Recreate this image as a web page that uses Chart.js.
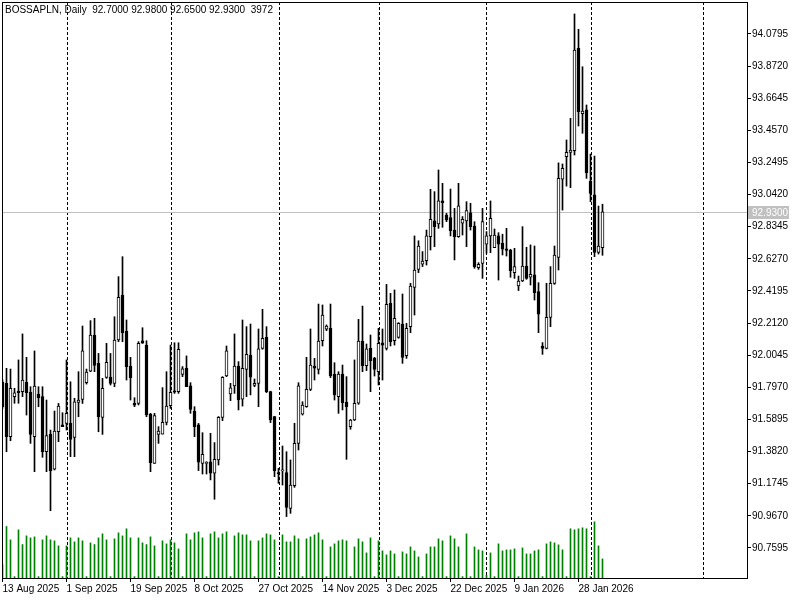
<!DOCTYPE html>
<html>
<head>
<meta charset="utf-8">
<script src="https://cdn.jsdelivr.net/npm/chart.js@4.4.1/dist/chart.umd.min.js"></script>
<style>
  html, body { margin: 0; padding: 0; background: #fff; }
  #wrap { width: 800px; height: 600px; position: relative; }
</style>
</head>
<body>
<div id="wrap"><canvas id="chart" width="800" height="600"></canvas></div>
<script>
// daily bars BOSSAPLN, index 0 = 13 Aug 2025 (sunday bars included)
const title = 'BOSSAPLN, Daily';
const opens = [
  91.831, 91.823, 91.478, 91.737, 91.773, 91.769, 91.829, 91.765, 91.478, 91.754,
  91.737, 91.381, 91.495, 91.269, 91.510, 91.554, 91.564, 91.564, 91.474, 91.700,
  91.719, 91.827, 91.902, 92.135, 91.952, 91.603, 91.861, 91.863, 91.823, 92.103,
  92.393, 92.161, 91.935, 91.693, 91.693, 92.098, 92.070, 91.625, 91.306, 91.493,
  91.495, 91.571, 91.678, 91.775, 91.769, 91.881, 91.920, 91.806, 91.644, 91.554,
  91.306, 91.306, 91.315, 91.242, 91.328, 91.603, 91.870, 91.754, 91.806, 91.935,
  91.720, 91.913, 92.006, 91.810, 91.823, 92.049, 92.120, 91.769, 91.608, 91.245,
  91.257, 91.246, 91.015, 91.162, 91.435, 91.623, 91.672, 91.784, 91.935, 91.913,
  92.099, 92.172, 92.178, 91.883, 91.737, 91.883, 91.702, 91.543, 91.586, 91.694,
  92.096, 91.937, 92.049, 91.984, 91.898, 92.085, 92.049, 92.340, 92.099, 92.120,
  92.206, 92.002, 92.189, 92.443, 92.559, 92.592, 92.615, 92.770, 92.872, 92.852,
  93.001, 92.910, 92.893, 92.813, 92.770, 92.857, 92.872, 92.925, 92.839, 92.570,
  92.598, 92.721, 92.775, 92.700, 92.775, 92.727, 92.691, 92.684, 92.538, 92.452,
  92.484, 92.581, 92.508, 92.523, 92.415, 92.064, 92.049, 92.249, 92.469, 92.637,
  93.141, 93.287, 93.315, 93.326, 93.987, 93.565, 93.589, 93.130, 93.040, 92.669,
  92.700
];
const highs = [
  91.845, 91.920, 91.915, 91.791, 91.974, 92.142, 91.991, 91.801, 92.032, 91.801,
  91.801, 91.715, 91.521, 91.644, 91.693, 91.633, 91.974, 91.833, 91.726, 91.898,
  92.193, 91.915, 92.228, 92.243, 92.016, 91.855, 92.081, 92.016, 92.253, 92.512,
  92.641, 92.232, 91.991, 91.730, 92.092, 92.182, 92.098, 91.629, 91.629, 91.543,
  91.795, 91.898, 92.070, 92.085, 92.085, 91.931, 92.000, 91.827, 91.672, 91.564,
  91.504, 91.317, 91.500, 91.440, 91.608, 91.866, 92.064, 91.823, 92.142, 91.963,
  92.232, 92.189, 92.206, 91.851, 92.174, 92.301, 92.189, 91.772, 91.610, 91.274,
  91.418, 91.381, 91.328, 91.565, 91.827, 91.704, 91.991, 92.174, 91.984, 92.335,
  92.329, 92.200, 92.335, 91.956, 91.898, 91.941, 91.866, 91.590, 91.974, 92.236,
  92.322, 92.077, 92.135, 91.991, 92.178, 92.174, 92.462, 92.404, 92.426, 92.215,
  92.400, 92.210, 92.469, 92.775, 92.744, 92.674, 92.813, 93.076, 93.061, 93.201,
  93.115, 92.921, 93.078, 92.953, 93.115, 92.900, 92.996, 92.986, 92.867, 92.602,
  92.953, 92.803, 93.001, 92.820, 92.796, 92.786, 92.824, 92.689, 92.695, 92.516,
  92.835, 92.702, 92.717, 92.710, 92.473, 92.086, 92.469, 92.577, 92.710, 93.247,
  93.240, 93.395, 93.535, 94.209, 94.110, 93.868, 93.621, 93.304, 93.291, 92.968,
  92.980
];
const lows = [
  91.660, 91.381, 91.452, 91.694, 91.694, 91.737, 91.618, 91.435, 91.252, 91.672,
  91.345, 91.252, 91.000, 91.263, 91.446, 91.543, 91.521, 91.349, 91.349, 91.607,
  91.693, 91.818, 91.898, 91.898, 91.510, 91.493, 91.855, 91.812, 91.801, 92.092,
  92.092, 91.844, 91.715, 91.672, 91.683, 92.081, 91.607, 91.252, 91.306, 91.435,
  91.495, 91.554, 91.661, 91.758, 91.758, 91.866, 91.801, 91.629, 91.478, 91.259,
  91.237, 91.237, 91.199, 91.074, 91.295, 91.582, 91.866, 91.711, 91.758, 91.651,
  91.676, 91.737, 91.748, 91.801, 91.672, 92.043, 91.763, 91.569, 91.220, 91.177,
  91.166, 90.962, 90.983, 91.151, 91.392, 91.618, 91.668, 91.776, 91.844, 91.883,
  92.064, 92.163, 91.860, 91.715, 91.629, 91.651, 91.332, 91.526, 91.582, 91.687,
  91.898, 91.905, 91.769, 91.870, 91.812, 91.844, 92.038, 92.064, 92.070, 92.114,
  91.952, 91.984, 92.150, 92.264, 92.538, 92.577, 92.587, 92.684, 92.706, 92.824,
  92.831, 92.867, 92.775, 92.620, 92.766, 92.781, 92.706, 92.813, 92.566, 92.559,
  92.501, 92.663, 92.667, 92.700, 92.490, 92.652, 92.645, 92.508, 92.501, 92.422,
  92.480, 92.495, 92.458, 92.361, 92.150, 92.010, 92.045, 92.189, 92.462, 92.555,
  92.942, 93.097, 93.087, 93.298, 93.485, 93.438, 93.147, 92.996, 92.641, 92.658,
  92.650
];
const closes = [
  91.672, 91.478, 91.790, 91.762, 91.762, 91.844, 91.762, 91.493, 91.805, 91.730,
  91.381, 91.485, 91.259, 91.515, 91.676, 91.543, 91.629, 91.461, 91.704, 91.715,
  92.032, 91.896, 92.135, 91.939, 91.607, 91.790, 91.958, 91.823, 92.103, 92.378,
  92.150, 91.930, 91.859, 91.681, 92.081, 92.083, 91.618, 91.310, 91.614, 91.515,
  91.571, 91.676, 91.765, 91.765, 92.042, 91.916, 91.801, 91.655, 91.543, 91.313,
  91.364, 91.310, 91.242, 91.332, 91.603, 91.862, 92.032, 91.793, 91.935, 91.715,
  91.920, 92.010, 91.862, 91.823, 92.045, 92.114, 91.769, 91.586, 91.259, 91.240,
  91.259, 91.022, 91.166, 91.435, 91.806, 91.683, 91.784, 91.941, 91.920, 92.096,
  92.264, 92.193, 91.870, 91.748, 91.883, 91.698, 91.672, 91.586, 91.694, 92.096,
  91.937, 92.045, 91.969, 91.913, 92.081, 92.070, 92.333, 92.092, 92.243, 92.210,
  91.991, 92.178, 92.451, 92.555, 92.710, 92.613, 92.775, 92.882, 92.835, 93.001,
  92.990, 92.878, 92.809, 92.770, 92.969, 92.882, 92.938, 92.835, 92.577, 92.592,
  92.867, 92.775, 92.889, 92.781, 92.721, 92.689, 92.682, 92.551, 92.577, 92.484,
  92.581, 92.501, 92.527, 92.409, 92.269, 92.049, 92.249, 92.469, 92.652, 93.147,
  93.212, 93.315, 93.330, 93.976, 93.578, 93.582, 93.184, 93.050, 92.669, 92.710,
  92.930
];
const volumes = [
  2800, 10730, 7950, 280, 10040, 6970, 8780, 8360, 8570, 280,
  7950, 8780, 7950, 7740, 6690, 280, 6690, 8360, 7530, 8360,
  7740, 280, 7320, 6970, 8360, 9200, 7950, 280, 8160, 9410,
  8780, 10250, 8360, 280, 8360, 7320, 6970, 8570, 6690, 280,
  7740, 7110, 7950, 7320, 6060, 280, 9200, 7950, 9410, 9620,
  8360, 280, 9200, 9620, 8360, 9200, 9620, 280, 8780, 9410,
  8990, 8990, 7740, 280, 7740, 8360, 9200, 8990, 7950, 280,
  8990, 7530, 7530, 8780, 8160, 280, 8160, 8570, 8990, 9410,
  7950, 280, 6480, 7110, 7740, 7950, 7740, 280, 6480, 8160,
  7530, 5230, 8360, 280, 7740, 5650, 4810, 5650, 5020, 280,
  5440, 5020, 6480, 5650, 4390, 280, 5020, 6480, 6480, 8160,
  7740, 280, 8780, 8160, 6480, 280, 9200, 280, 6480, 5860,
  5650, 600, 5230, 280, 7110, 5650, 5860, 5860, 6060, 280,
  6270, 5020, 5020, 5650, 5860, 280, 7110, 7530, 7320, 6900,
  5860, 280, 10250, 10040, 10250, 10460, 10250, 280, 11710, 6690,
  3972
];

// time axis labels (bar index -> text)
const dateTickIdx = [0, 16, 32, 48, 64, 80, 96, 112, 128, 144];
const dateTickText = ['13 Aug 2025', '1 Sep 2025', '19 Sep 2025', '8 Oct 2025', '27 Oct 2025',
  '14 Nov 2025', '3 Dec 2025', '22 Dec 2025', '9 Jan 2026', '28 Jan 2026'];
// first bar of each month (period separators), last one is in the empty future part
const monthStarts = [16, 42, 69, 94, 121, 147, 175];
const priceTicks = [90.7595, 90.9670, 91.1745, 91.3820, 91.5895, 91.7970, 92.0045, 92.2120,
  92.4195, 92.6270, 92.8345, 93.0420, 93.2495, 93.4570, 93.6645, 93.8720, 94.0795];

const last = opens.length - 1;
const FONT = { family: 'Liberation Sans', size: 10 };

const mt4 = {
  id: 'mt4',
  beforeDatasetsDraw(chart) {
    const { ctx, chartArea: a, scales } = chart;
    ctx.save();
    // period separators
    ctx.strokeStyle = '#000';
    ctx.lineWidth = 1;
    ctx.setLineDash([3, 2]);
    monthStarts.forEach(k => {
      const x = Math.round(scales.x.getPixelForValue(k)) + 0.5;
      ctx.beginPath();
      ctx.moveTo(x, a.top);
      ctx.lineTo(x, a.bottom);
      ctx.stroke();
    });
    ctx.setLineDash([]);
    // bid line
    const yb = Math.round(scales.y.getPixelForValue(closes[last])) + 0.5;
    ctx.strokeStyle = '#c0c0c0';
    ctx.beginPath();
    ctx.moveTo(a.left, yb);
    ctx.lineTo(a.right, yb);
    ctx.stroke();
    ctx.restore();
  },
  afterDraw(chart) {
    const { ctx, chartArea: a, scales } = chart;
    ctx.save();
    ctx.strokeStyle = '#000';
    ctx.lineWidth = 1;
    ctx.strokeRect(a.left + 0.5, a.top + 0.5, a.right - a.left, a.bottom - a.top);
    // bid label on price axis
    const yb = Math.round(scales.y.getPixelForValue(closes[last]));
    ctx.fillStyle = '#c0c0c0';
    ctx.fillRect(a.right + 1, yb - 6, 41, 13);
    ctx.fillStyle = '#fff';
    ctx.font = '10px "Liberation Sans"';
    ctx.textBaseline = 'middle';
    ctx.fillText(closes[last].toFixed(4), a.right + 5, yb + 1);
    // header
    ctx.fillStyle = '#000';
    const head = title + '  ' + opens[last].toFixed(4) + ' ' + highs[last].toFixed(4) + ' ' +
      lows[last].toFixed(4) + ' ' + closes[last].toFixed(4) + '  ' + volumes[last];
    ctx.fillText(head, 5, 10);
    ctx.restore();
  }
};

const idx = opens.map((o, i) => i);

new Chart(document.getElementById('chart'), {
  type: 'bar',
  data: {
    datasets: [
      {
        label: 'body',
        data: idx.map(i => ({ x: i, y: [opens[i], closes[i]] })),
        backgroundColor: idx.map(i => closes[i] >= opens[i] ? '#fff' : '#000'),
        borderColor: '#000',
        borderWidth: 1,
        borderSkipped: false,
        barThickness: 3,
        minBarLength: 1,
        grouped: false,
        order: 1
      },
      {
        label: 'wick',
        data: idx.map(i => ({ x: i, y: [lows[i], highs[i]] })),
        backgroundColor: '#000',
        barThickness: 1,
        grouped: false,
        order: 2
      },
      {
        label: 'volume',
        data: idx.map(i => ({ x: i, y: volumes[i] })),
        yAxisID: 'yv',
        backgroundColor: '#008000',
        barThickness: 1,
        grouped: false,
        order: 3
      }
    ]
  },
  options: {
    responsive: false,
    animation: false,
    layout: { padding: { left: 2, top: 2, right: 0, bottom: 0 } },
    plugins: { legend: { display: false }, tooltip: { enabled: false } },
    scales: {
      x: {
        type: 'linear',
        offset: false,
        min: -0.125,
        max: 186.125,
        afterBuildTicks: s => { s.ticks = dateTickIdx.map(v => ({ value: v })); },
        afterFit: s => { s.height = 22; s.paddingLeft = 0; s.paddingRight = 0; },
        ticks: {
          autoSkip: false,
          maxRotation: 0,
          align: 'start',
          padding: 1,
          color: '#000',
          font: FONT,
          callback: v => dateTickText[dateTickIdx.indexOf(v)]
        },
        grid: { offset: false, drawOnChartArea: false, tickLength: 4, color: '#000' },
        border: { color: '#000' }
      },
      y: {
        position: 'right',
        min: 90.5653,
        max: 94.2862,
        afterBuildTicks: s => { s.ticks = priceTicks.map(v => ({ value: v })); },
        afterFit: s => { s.width = 53; s.paddingTop = 0; s.paddingBottom = 0; },
        ticks: {
          padding: 1,
          color: '#000',
          font: FONT,
          callback: v => v.toFixed(4)
        },
        grid: { drawOnChartArea: false, tickLength: 4, color: '#000' },
        border: { color: '#000' }
      },
      yv: {
        display: false,
        min: 0,
        max: 120000
      }
    }
  },
  plugins: [mt4]
});
</script>
</body>
</html>
